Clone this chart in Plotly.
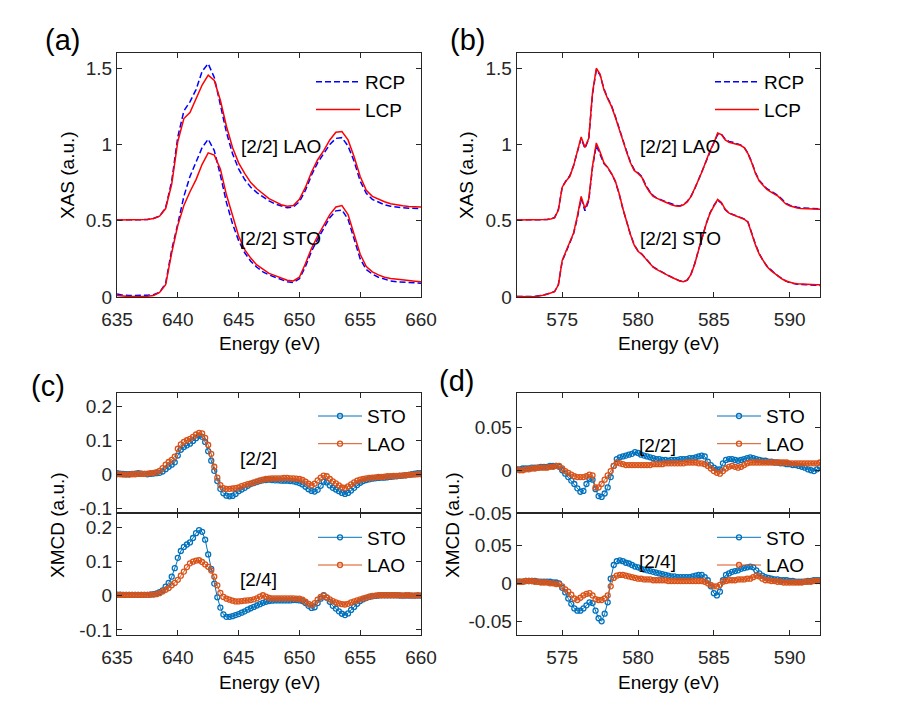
import numpy as np
import plotly.graph_objects as go

# ---------------- data ----------------
# (a) XAS, energy grid 635..660 eV (0.5 eV)
E_a = np.round(np.arange(635, 660.001, 0.5), 2)
LAO_LCP_a = [0.505,0.505,0.505,0.505,0.506,0.508,0.515,0.530,0.580,0.740,
             1.020,1.170,1.210,1.300,1.390,1.455,1.420,1.290,1.120,0.980,
             0.880,0.810,0.750,0.710,0.675,0.645,0.625,0.605,0.595,0.600,
             0.640,0.720,0.820,0.900,0.960,1.030,1.080,1.085,1.030,0.920,
             0.790,0.700,0.660,0.640,0.625,0.612,0.604,0.598,0.594,0.592,0.590]
LAO_RCP_a = [0.505,0.505,0.505,0.505,0.506,0.508,0.515,0.530,0.585,0.760,
             1.050,1.220,1.280,1.360,1.480,1.530,1.440,1.270,1.080,0.940,
             0.840,0.770,0.720,0.685,0.655,0.630,0.610,0.595,0.585,0.590,
             0.625,0.700,0.800,0.880,0.940,1.000,1.040,1.045,0.990,0.890,
             0.760,0.680,0.640,0.620,0.605,0.595,0.588,0.585,0.582,0.580,0.580]
STO_LCP_a = [0.010,0.005,0.003,0.003,0.003,0.005,0.010,0.030,0.080,0.290,
             0.470,0.600,0.690,0.770,0.870,0.945,0.930,0.840,0.670,0.530,
             0.400,0.310,0.255,0.210,0.180,0.155,0.140,0.125,0.110,0.105,
             0.130,0.220,0.320,0.400,0.470,0.540,0.590,0.600,0.540,0.410,
             0.280,0.200,0.165,0.145,0.130,0.122,0.116,0.112,0.108,0.104,0.100]
STO_RCP_a = [0.020,0.012,0.010,0.010,0.010,0.012,0.015,0.030,0.090,0.310,
             0.480,0.660,0.790,0.880,0.980,1.035,0.960,0.800,0.620,0.480,
             0.370,0.290,0.235,0.195,0.165,0.145,0.130,0.115,0.100,0.095,
             0.120,0.200,0.300,0.380,0.450,0.520,0.565,0.570,0.510,0.380,
             0.250,0.180,0.150,0.130,0.115,0.105,0.100,0.097,0.095,0.093,0.090]

# (b) XAS, energy grid 572..592 eV (0.25 eV)
E_b = np.round(np.arange(572, 592.001, 0.25), 2)
LAO_LCP_b = [0.505,0.505,0.505,0.505,0.505,0.505,0.505,0.506,0.508,0.512,
             0.520,0.570,0.720,0.760,0.790,0.860,0.960,1.050,0.980,1.040,
             1.340,1.500,1.460,1.360,1.300,1.250,1.180,1.100,1.020,0.950,
             0.880,0.830,0.810,0.785,0.730,0.690,0.660,0.645,0.635,0.625,
             0.612,0.603,0.597,0.595,0.605,0.625,0.660,0.710,0.770,0.830,
             0.900,0.960,1.010,1.075,1.065,1.030,1.015,1.010,1.005,0.995,
             0.980,0.940,0.880,0.810,0.760,0.730,0.705,0.690,0.675,0.660,
             0.635,0.610,0.598,0.590,0.584,0.580,0.578,0.577,0.576,0.575,0.575]
LAO_RCP_b = [0.505,0.505,0.505,0.505,0.505,0.505,0.505,0.506,0.508,0.512,
             0.521,0.575,0.720,0.762,0.795,0.862,0.955,1.040,0.975,1.035,
             1.330,1.490,1.455,1.365,1.305,1.255,1.185,1.105,1.025,0.955,
             0.885,0.835,0.815,0.790,0.735,0.695,0.665,0.648,0.638,0.628,
             0.615,0.606,0.600,0.597,0.606,0.627,0.662,0.712,0.772,0.832,
             0.902,0.962,1.012,1.065,1.068,1.035,1.020,1.015,1.008,0.998,
             0.982,0.942,0.884,0.814,0.764,0.735,0.710,0.695,0.680,0.664,
             0.640,0.615,0.602,0.594,0.588,0.584,0.582,0.581,0.580,0.579,0.578]
STO_LCP_b = [0.003,0.002,0.001,0.001,0.002,0.004,0.007,0.012,0.018,0.025,
             0.035,0.080,0.240,0.300,0.360,0.420,0.530,0.660,0.580,0.640,
             0.860,1.010,0.950,0.880,0.850,0.810,0.760,0.680,0.580,0.490,
             0.410,0.340,0.300,0.280,0.250,0.220,0.195,0.180,0.165,0.155,
             0.140,0.128,0.115,0.105,0.100,0.110,0.150,0.220,0.310,0.400,
             0.480,0.550,0.600,0.640,0.620,0.575,0.550,0.540,0.530,0.520,
             0.510,0.490,0.410,0.340,0.280,0.235,0.200,0.175,0.155,0.135,
             0.118,0.105,0.095,0.090,0.087,0.085,0.083,0.082,0.081,0.080,0.080]
STO_RCP_b = [0.004,0.003,0.002,0.002,0.003,0.005,0.008,0.013,0.019,0.026,
             0.036,0.082,0.235,0.295,0.355,0.415,0.520,0.645,0.565,0.630,
             0.850,0.995,0.935,0.875,0.848,0.808,0.758,0.678,0.578,0.490,
             0.410,0.342,0.302,0.282,0.252,0.222,0.197,0.182,0.167,0.156,
             0.141,0.129,0.116,0.106,0.101,0.111,0.152,0.222,0.312,0.402,
             0.482,0.552,0.600,0.635,0.615,0.572,0.550,0.541,0.531,0.521,
             0.512,0.492,0.414,0.344,0.284,0.238,0.203,0.178,0.157,0.137,
             0.119,0.105,0.094,0.088,0.084,0.082,0.080,0.078,0.077,0.076,0.076]

# (c) XMCD, energy grid 635..660 eV (0.25 eV)
E_c = np.round(np.arange(635, 660.001, 0.25), 2)
STO_c22 = [0.003,0.002,0.001,0.000,0.000,0.001,0.002,0.003,0.002,0.001,
           0.000,0.001,0.002,0.003,0.004,0.008,0.015,0.022,0.028,0.035,
           0.055,0.072,0.080,0.085,0.090,0.098,0.106,0.113,0.110,0.095,
           0.068,0.040,0.010,-0.020,-0.043,-0.056,-0.063,-0.065,-0.064,-0.058,
           -0.050,-0.045,-0.040,-0.034,-0.029,-0.026,-0.023,-0.020,-0.018,-0.017,
           -0.016,-0.017,-0.018,-0.018,-0.019,-0.019,-0.019,-0.020,-0.021,-0.023,
           -0.026,-0.030,-0.037,-0.044,-0.049,-0.051,-0.046,-0.034,-0.022,-0.024,
           -0.033,-0.040,-0.045,-0.050,-0.055,-0.058,-0.055,-0.048,-0.040,-0.032,
           -0.025,-0.020,-0.017,-0.015,-0.013,-0.012,-0.011,-0.010,-0.010,-0.009,
           -0.008,-0.007,-0.006,-0.005,-0.004,-0.003,-0.002,0.000,0.002,0.003,
           0.003]
LAO_c22 = [0.000,0.000,-0.001,-0.001,-0.001,0.000,0.000,0.001,0.001,0.001,
           0.002,0.003,0.004,0.006,0.010,0.018,0.028,0.036,0.042,0.052,
           0.075,0.088,0.095,0.100,0.104,0.110,0.117,0.122,0.120,0.107,
           0.086,0.060,0.022,-0.010,-0.032,-0.041,-0.043,-0.043,-0.042,-0.041,
           -0.039,-0.035,-0.032,-0.029,-0.027,-0.024,-0.021,-0.018,-0.016,-0.014,
           -0.013,-0.012,-0.012,-0.012,-0.012,-0.011,-0.011,-0.012,-0.012,-0.013,
           -0.014,-0.017,-0.022,-0.028,-0.033,-0.028,-0.018,-0.010,-0.004,-0.006,
           -0.014,-0.021,-0.027,-0.033,-0.039,-0.040,-0.036,-0.030,-0.024,-0.019,
           -0.016,-0.014,-0.012,-0.011,-0.010,-0.009,-0.008,-0.008,-0.007,-0.006,
           -0.006,-0.005,-0.005,-0.004,-0.004,-0.003,-0.002,-0.001,-0.001,0.000,
           0.000]
STO_c24 = [0.003,0.003,0.002,0.002,0.002,0.002,0.002,0.002,0.002,0.002,
           0.002,0.003,0.004,0.006,0.010,0.015,0.026,0.037,0.055,0.080,
           0.110,0.130,0.142,0.149,0.155,0.168,0.182,0.191,0.186,0.163,
           0.120,0.078,0.035,-0.005,-0.035,-0.055,-0.062,-0.062,-0.060,-0.057,
           -0.054,-0.050,-0.046,-0.041,-0.037,-0.033,-0.029,-0.025,-0.021,-0.018,
           -0.016,-0.015,-0.014,-0.014,-0.014,-0.014,-0.014,-0.014,-0.013,-0.013,
           -0.014,-0.016,-0.022,-0.030,-0.036,-0.034,-0.022,-0.009,0.001,-0.006,
           -0.018,-0.030,-0.038,-0.046,-0.053,-0.057,-0.052,-0.042,-0.033,-0.024,
           -0.016,-0.011,-0.007,-0.004,-0.002,-0.001,0.000,0.001,0.001,0.001,
           0.001,0.001,0.001,0.000,0.000,0.000,0.000,0.000,0.000,0.000,
           0.000]
LAO_c24 = [0.002,0.002,0.002,0.002,0.002,0.002,0.002,0.002,0.002,0.002,
           0.002,0.003,0.003,0.004,0.007,0.012,0.017,0.022,0.030,0.037,
           0.046,0.058,0.070,0.083,0.094,0.099,0.102,0.103,0.098,0.091,
           0.084,0.073,0.055,0.030,0.008,-0.004,-0.009,-0.012,-0.015,-0.017,
           -0.017,-0.016,-0.015,-0.014,-0.013,-0.011,-0.008,-0.003,0.001,-0.003,
           -0.007,-0.008,-0.008,-0.008,-0.008,-0.008,-0.008,-0.008,-0.008,-0.009,
           -0.009,-0.012,-0.018,-0.024,-0.028,-0.022,-0.012,-0.004,0.000,-0.005,
           -0.011,-0.016,-0.020,-0.023,-0.025,-0.026,-0.024,-0.020,-0.017,-0.014,
           -0.011,-0.008,-0.006,-0.003,-0.001,0.000,0.001,0.001,0.001,0.001,
           0.001,0.001,0.001,0.001,0.000,0.001,0.001,0.000,0.000,0.001,
           0.000]

# (d) XMCD, energy grid 572..592 eV (0.2 eV)
E_d = np.round(np.arange(572, 592.001, 0.2), 2)
STO_d22 = [0.001,0.001,0.002,0.002,0.002,0.003,0.003,0.003,0.004,0.004,
           0.004,0.005,0.005,0.005,0.004,0.000,-0.004,-0.008,-0.012,-0.016,
           -0.021,-0.025,-0.024,-0.016,-0.010,-0.011,-0.022,-0.030,-0.031,-0.027,
           -0.020,-0.008,0.005,0.013,0.015,0.016,0.017,0.018,0.019,0.021,
           0.020,0.018,0.017,0.016,0.015,0.014,0.013,0.013,0.012,0.012,
           0.011,0.012,0.012,0.012,0.013,0.013,0.013,0.014,0.014,0.015,
           0.016,0.017,0.016,0.010,0.006,0.003,0.001,0.001,0.008,0.012,
           0.013,0.013,0.012,0.011,0.012,0.013,0.014,0.015,0.014,0.013,
           0.012,0.011,0.011,0.010,0.010,0.009,0.009,0.008,0.008,0.007,
           0.007,0.006,0.006,0.005,0.004,0.003,0.001,0.000,-0.001,0.001,
           0.004]
LAO_d22 = [0.001,0.000,0.000,0.001,0.001,0.002,0.002,0.003,0.003,0.003,
           0.003,0.004,0.004,0.005,0.005,0.002,-0.001,-0.003,-0.005,-0.007,
           -0.008,-0.008,-0.008,-0.007,-0.005,-0.006,-0.020,-0.020,-0.016,-0.011,
           -0.006,-0.001,0.005,0.009,0.008,0.007,0.006,0.006,0.006,0.006,
           0.006,0.006,0.006,0.006,0.006,0.007,0.007,0.007,0.007,0.008,
           0.008,0.008,0.008,0.008,0.008,0.008,0.009,0.009,0.009,0.009,
           0.008,0.008,0.007,0.005,0.002,-0.001,-0.003,-0.004,-0.001,0.002,
           0.004,0.005,0.004,0.003,0.004,0.006,0.008,0.009,0.009,0.009,
           0.009,0.009,0.009,0.009,0.009,0.009,0.009,0.009,0.009,0.009,
           0.008,0.008,0.008,0.008,0.008,0.008,0.008,0.008,0.008,0.008,
           0.009]
STO_d24 = [0.002,0.002,0.002,0.003,0.003,0.003,0.003,0.002,0.002,0.002,
           0.002,0.002,0.001,0.001,0.000,-0.006,-0.012,-0.020,-0.027,-0.033,
           -0.036,-0.036,-0.033,-0.029,-0.025,-0.026,-0.036,-0.046,-0.050,-0.040,
           -0.025,0.006,0.024,0.029,0.030,0.029,0.027,0.026,0.024,0.022,
           0.021,0.019,0.018,0.017,0.016,0.015,0.014,0.013,0.012,0.011,
           0.010,0.009,0.009,0.008,0.008,0.008,0.008,0.008,0.009,0.010,
           0.011,0.011,0.008,0.004,-0.004,-0.013,-0.016,-0.011,0.004,0.011,
           0.013,0.015,0.016,0.017,0.019,0.020,0.021,0.022,0.021,0.017,
           0.013,0.010,0.008,0.007,0.006,0.005,0.005,0.004,0.004,0.004,
           0.003,0.003,0.002,0.002,0.002,0.002,0.003,0.003,0.004,0.004,
           0.004]
LAO_d24 = [0.002,0.002,0.002,0.003,0.003,0.003,0.002,0.002,0.001,0.001,
           0.001,0.000,0.000,-0.001,-0.001,-0.004,-0.008,-0.011,-0.015,-0.020,
           -0.022,-0.019,-0.016,-0.014,-0.013,-0.016,-0.021,-0.022,-0.022,-0.020,
           -0.016,-0.004,0.007,0.010,0.011,0.011,0.010,0.009,0.008,0.007,
           0.006,0.006,0.005,0.005,0.005,0.004,0.004,0.004,0.004,0.004,
           0.003,0.003,0.003,0.003,0.003,0.003,0.003,0.003,0.003,0.003,
           0.003,0.003,0.002,0.000,-0.002,-0.004,-0.004,-0.002,0.002,0.003,
           0.004,0.004,0.004,0.005,0.005,0.005,0.006,0.006,0.008,0.010,
           0.009,0.006,0.004,0.004,0.003,0.003,0.002,0.002,0.001,0.001,
           0.001,0.001,0.001,0.001,0.001,0.002,0.002,0.002,0.003,0.003,
           0.003]

# ---------------- styling ----------------
# The page body adds an 8 px margin, so the figure is 16 px smaller than the
# window and all target page positions are shifted by that margin.
PAGE_M = 8
W, H = 906 - 2 * PAGE_M, 714 - 2 * PAGE_M
FONT = "Liberation Sans, Arial, sans-serif"
INK = "#262626"
RCP_C, LCP_C = "#0000FF", "#FF0000"
STO_C, LAO_C = "#0072BD", "#D95319"


def fx(px):
    return (px - PAGE_M) / W


def fy(py):
    return 1 - (py - PAGE_M) / H


def xd(p0, p1):
    return [fx(p0), fx(p1)]


def yd(p0, p1):
    return [fy(p1), fy(p0)]


fig = go.Figure()


def xas(x, y, ax, name, color, dash, legend, show):
    fig.add_trace(go.Scatter(
        x=x, y=y, mode="lines", name=name, xaxis="x" + ax, yaxis="y" + ax,
        line=dict(color=color, width=1.5, dash=dash),
        legend=legend, showlegend=show, hoverinfo="skip"))


def xmcd(x, y, ax, name, color, legend):
    fig.add_trace(go.Scatter(
        x=x, y=y, mode="lines+markers", name=name, xaxis="x" + ax, yaxis="y" + ax,
        line=dict(color=color, width=1),
        marker=dict(symbol="circle-open", size=5, color=color,
                    line=dict(width=1.3, color=color)),
        legend=legend, showlegend=True, hoverinfo="skip"))


# (a)
xas(E_a, LAO_RCP_a, "", "RCP", RCP_C, "6px,3px", "legend", True)
xas(E_a, LAO_LCP_a, "", "LCP", LCP_C, "solid", "legend", True)
xas(E_a, STO_RCP_a, "", "RCP", RCP_C, "6px,3px", "legend", False)
xas(E_a, STO_LCP_a, "", "LCP", LCP_C, "solid", "legend", False)
# (b)
xas(E_b, LAO_RCP_b, "2", "RCP", RCP_C, "6px,3px", "legend2", True)
xas(E_b, LAO_LCP_b, "2", "LCP", LCP_C, "solid", "legend2", True)
xas(E_b, STO_RCP_b, "2", "RCP", RCP_C, "6px,3px", "legend2", False)
xas(E_b, STO_LCP_b, "2", "LCP", LCP_C, "solid", "legend2", False)
# (c)
xmcd(E_c, STO_c22, "3", "STO", STO_C, "legend3")
xmcd(E_c, LAO_c22, "3", "LAO", LAO_C, "legend3")
xmcd(E_c, STO_c24, "4", "STO", STO_C, "legend4")
xmcd(E_c, LAO_c24, "4", "LAO", LAO_C, "legend4")
# (d)
xmcd(E_d, STO_d22, "5", "STO", STO_C, "legend5")
xmcd(E_d, LAO_d22, "5", "LAO", LAO_C, "legend5")
xmcd(E_d, STO_d24, "6", "STO", STO_C, "legend6")
xmcd(E_d, LAO_d24, "6", "LAO", LAO_C, "legend6")

common = dict(showline=True, mirror="ticks", linecolor=INK, linewidth=1.2,
              ticks="inside", ticklen=5, tickwidth=1, tickcolor=INK,
              showgrid=False, zeroline=False, automargin=False,
              tickfont=dict(family=FONT, size=19, color=INK))
xcommon = dict(common, ticklabelstandoff=5)

xt_a = [635, 640, 645, 650, 655, 660]
xt_b = [575, 580, 585, 590]
yt_ab = [0, 0.5, 1, 1.5]
yt_ab_txt = ["0", "0.5", "1", "1.5"]
yt_c = [-0.1, 0, 0.1, 0.2]
yt_c_txt = ["-0.1", "0", "0.1", "0.2"]
yt_d = [-0.05, 0, 0.05]
yt_d_txt = ["-0.05", "0", "0.05"]

XA, XB = xd(117, 421), xd(516.7, 820)
Y_TOP = yd(53, 297)
Y_CT, Y_CB = yd(392.7, 513.3), yd(513.3, 635)

fig.update_layout(
    xaxis=dict(xcommon, domain=XA, range=[635, 660], tickvals=xt_a, anchor="y"),
    yaxis=dict(common, domain=Y_TOP, range=[0, 1.6], tickvals=yt_ab, ticktext=yt_ab_txt, anchor="x"),
    xaxis2=dict(xcommon, domain=XB, range=[572, 592], tickvals=xt_b, anchor="y2"),
    yaxis2=dict(common, domain=Y_TOP, range=[0, 1.6], tickvals=yt_ab, ticktext=yt_ab_txt, anchor="x2"),
    xaxis3=dict(xcommon, domain=XA, range=[635, 660], tickvals=xt_a, showticklabels=False, anchor="y3"),
    yaxis3=dict(common, domain=Y_CT, range=[-0.115, 0.24], tickvals=yt_c, ticktext=yt_c_txt, anchor="x3"),
    xaxis4=dict(xcommon, domain=XA, range=[635, 660], tickvals=xt_a, anchor="y4"),
    yaxis4=dict(common, domain=Y_CB, range=[-0.115, 0.24], tickvals=yt_c, ticktext=yt_c_txt, anchor="x4"),
    xaxis5=dict(xcommon, domain=XB, range=[572, 592], tickvals=xt_b, showticklabels=False, anchor="y5"),
    yaxis5=dict(common, domain=Y_CT, range=[-0.05, 0.09], tickvals=yt_d, ticktext=yt_d_txt, anchor="x5"),
    xaxis6=dict(xcommon, domain=XB, range=[572, 592], tickvals=xt_b, anchor="y6"),
    yaxis6=dict(common, domain=Y_CB, range=[-0.068, 0.092], tickvals=yt_d, ticktext=yt_d_txt, anchor="x6"),
)


def leg(text_px, first_center_py):
    iw = 44
    left = text_px - 51
    top = first_center_py - (27.7 / 2 + 5)
    return dict(x=fx(left), y=fy(top), xanchor="left", yanchor="top",
                bgcolor="rgba(0,0,0,0)", borderwidth=0, itemwidth=iw,
                font=dict(family=FONT, size=19, color="black"),
                itemclick=False, itemdoubleclick=False)


fig.update_layout(
    legend=leg(362, 81.7),
    legend2=leg(761, 81.7),
    legend3=leg(364, 416),
    legend4=leg(364, 537.3),
    legend5=leg(763, 416),
    legend6=leg(763, 537.3),
)

ann = []


def ptxt(text, px, py, size=19, angle=0):
    ann.append(dict(text=text, x=fx(px), y=fy(py), xref="paper", yref="paper",
                    xanchor="center", yanchor="middle", showarrow=False, textangle=angle,
                    font=dict(family=FONT, size=size, color="black")))


def dtxt(text, x, y, ax):
    ann.append(dict(text=text, x=x, y=y, xref="x" + ax, yref="y" + ax,
                    xanchor="center", yanchor="middle", showarrow=False,
                    font=dict(family=FONT, size=19, color="black")))


# panel letters
ptxt("(a)", 62, 40, 29)
ptxt("(b)", 467, 40, 29)
ptxt("(c)", 48, 386, 29)
ptxt("(d)", 456, 381, 29)
# axis titles
ptxt("XAS (a.u.)", 68, 175, 19, -90)
ptxt("XAS (a.u.)", 467, 175, 19, -90)
ptxt("XMCD (a.u.)", 57, 525, 19, -90)
ptxt("XMCD (a.u.)", 452, 525, 19, -90)
ptxt("Energy (eV)", 269, 344)
ptxt("Energy (eV)", 668, 344)
ptxt("Energy (eV)", 269, 682)
ptxt("Energy (eV)", 668, 682)
# in-plot labels
dtxt("[2/2] LAO", 648.46, 0.99, "")
dtxt("[2/2] STO", 648.46, 0.385, "")
dtxt("[2/2] LAO", 582.8, 0.99, "2")
dtxt("[2/2] STO", 582.8, 0.385, "2")
dtxt("[2/2]", 646.6, 0.046, "3")
dtxt("[2/4]", 646.6, 0.048, "4")
dtxt("[2/2]", 581.27, 0.029, "5")
dtxt("[2/4]", 581.27, 0.029, "6")

fig.update_layout(
    width=W, height=H, margin=dict(l=0, r=0, t=0, b=0),
    paper_bgcolor="white", plot_bgcolor="white",
    annotations=ann, font=dict(family=FONT, color=INK),
)

fig.write_html("out.html")
